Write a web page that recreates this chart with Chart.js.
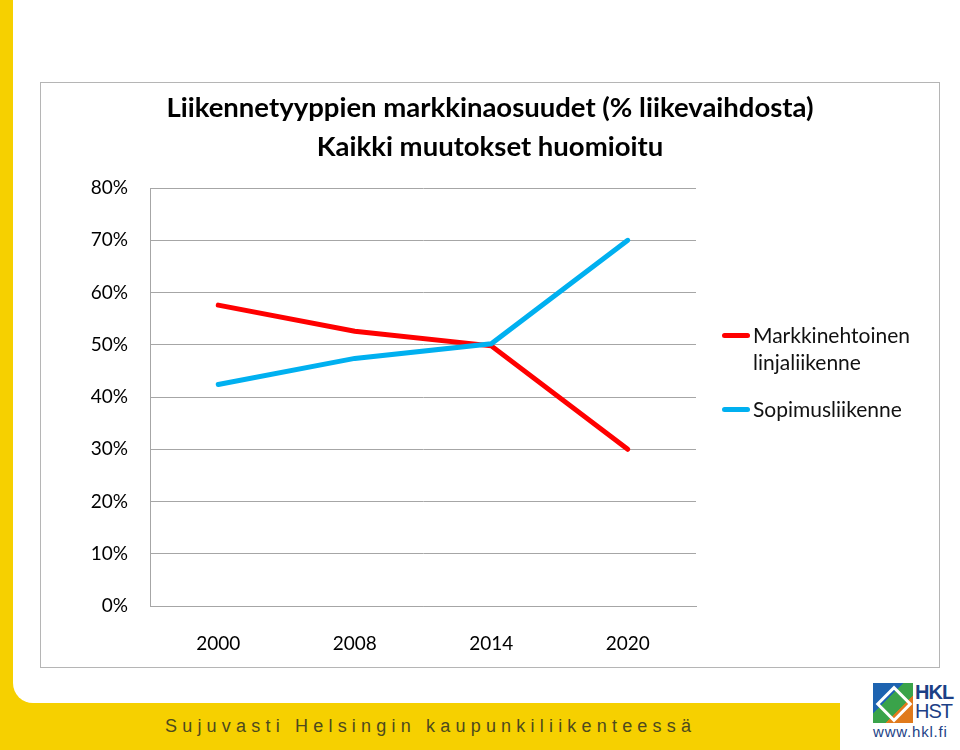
<!DOCTYPE html>
<html lang="fi">
<head>
<meta charset="utf-8">
<title>Liikennetyyppien markkinaosuudet</title>
<script src="https://cdn.jsdelivr.net/npm/chart.js@4.4.1/dist/chart.umd.min.js"></script>
<style>
  html, body { margin: 0; padding: 0; }
  body {
    width: 960px; height: 750px; position: relative; overflow: hidden;
    background: #fff; font-family: Lato, "Open Sans", sans-serif;
  }
  /* yellow frame: left stripe + footer band */
  .stripe { position: absolute; left: 0; top: 0; width: 13px; height: 750px; background: #f6d000; }
  .band { position: absolute; left: 0; top: 703px; width: 840px; height: 47px; background: #f6d000; }
  .corner { position: absolute; left: 13px; top: 683px; width: 20px; height: 20px; background: #f6d000; }
  .corner::after {
    content: ""; position: absolute; left: 0; top: 0; width: 20px; height: 20px;
    background: #fff; border-bottom-left-radius: 20px;
  }
  .slogan {
    position: absolute; left: 165px; top: 716px; font-family: "Liberation Sans", Arial, sans-serif;
    font-size: 18px; letter-spacing: 5.2px; color: #4d4a1e;
  }
  .box {
    position: absolute; left: 40px; top: 82px; width: 898px; height: 584px;
    border: 1px solid #b5b5b5; background: #fff;
  }
  .legend { position: absolute; left: 722px; top: 0; font-size: 21px; color: #111; }
  .legend .item { position: absolute; left: 0; white-space: nowrap; line-height: 27px; }
  .legend .swatch {
    position: absolute; left: 0; width: 28px; height: 5px; border-radius: 3px;
  }
  .legend .txt { position: absolute; left: 31px; top: 0; }
  /* logo */
  .logo { position: absolute; left: 872px; top: 682px; width: 86px; height: 64px; }
  .logo .mark {
    position: absolute; left: 1px; top: 1px; width: 40px; height: 40px;
    background: linear-gradient(135deg, #1d63b0 0 38%, #3aa34a 38% 66%, #e07a1c 66% 100%);
  }
  .logo .mark::after {
    content: ""; position: absolute; left: 8px; top: 8px; width: 20px; height: 20px;
    border: 3px solid #fff; transform: rotate(45deg);
  }
  .logo .hkl { position: absolute; left: 43px; top: -1px; font: bold 20px "Liberation Sans Narrow", "Liberation Sans", sans-serif; color: #1c3f86; letter-spacing: -1px; }
  .logo .hst { position: absolute; left: 43px; top: 18px; font: 20px "Liberation Sans Narrow", "Liberation Sans", sans-serif; color: #1c3f86; letter-spacing: -1px; }
  .logo .www { position: absolute; left: 1px; top: 41px; font: 15px "Liberation Sans", sans-serif; color: #1c3f86; letter-spacing: 0.8px; }
</style>
</head>
<body>
<div class="stripe"></div>
<div class="corner"></div>
<div class="band"></div>
<div class="slogan">Sujuvasti Helsingin kaupunkiliikenteessä</div>

<div class="box">
  <canvas id="shareChart" width="898" height="584"></canvas>
</div>

<div class="legend" id="legend"></div>

<div class="logo">
  <div class="mark"></div>
  <div class="hkl">HKL</div>
  <div class="hst">HST</div>
  <div class="www">www.hkl.fi</div>
</div>

<script>
  // ── Data ──────────────────────────────────────────────
  const years = ["2000", "2008", "2014", "2020"];
  const marketShare = [57.6, 52.6, 49.8, 30.0];     // Markkinehtoinen linjaliikenne
  const contractShare = [42.4, 47.4, 50.2, 70.0];   // Sopimusliikenne
  const yTicks = [0, 10, 20, 30, 40, 50, 60, 70, 80];

  const titleLines = [
    "Liikennetyyppien markkinaosuudet (% liikevaihdosta)",
    "Kaikki muutokset huomioitu"
  ];
  const seriesNames = [["Markkinehtoinen", "linjaliikenne"], ["Sopimusliikenne"]];
  const seriesColors = ["#ff0000", "#00b0f0"];

  const FONT = "Lato, 'Open Sans', sans-serif";

  // ── Chart ─────────────────────────────────────────────
  new Chart(document.getElementById("shareChart"), {
    type: "line",
    data: {
      labels: years,
      datasets: [
        {
          label: seriesNames[0].join(" "),
          data: marketShare,
          borderColor: seriesColors[0],
          borderWidth: 5,
          pointRadius: 0,
          tension: 0,
          borderCapStyle: "round",
          order: 1
        },
        {
          label: seriesNames[1].join(" "),
          data: contractShare,
          borderColor: seriesColors[1],
          borderWidth: 5,
          pointRadius: 0,
          tension: 0,
          borderCapStyle: "round",
          order: 0
        }
      ]
    },
    options: {
      responsive: false,
      animation: false,
      layout: { padding: 0 },
      plugins: {
        legend: { display: false },
        tooltip: { enabled: false },
        title: {
          display: true,
          text: titleLines,
          color: "#000",
          font: { family: FONT, size: 27.5, weight: "bold", lineHeight: 1.42 },
          padding: { top: 5.5, bottom: 21.5 }
        }
      },
      scales: {
        x: {
          offset: true,
          grid: { display: false, drawTicks: false },
          border: { display: true, color: "#a6a6a6", width: 1 },
          ticks: { color: "#000", font: { family: FONT, size: 19 }, padding: 26 },
          afterFit: (s) => { s.height = 61; }
        },
        y: {
          min: yTicks[0],
          max: yTicks[yTicks.length - 1],
          afterBuildTicks: (s) => { s.ticks = yTicks.map((v) => ({ value: v })); },
          grid: { color: "#a6a6a6", lineWidth: 1, drawTicks: false },
          border: { display: true, color: "#a6a6a6", width: 1 },
          ticks: {
            color: "#000",
            font: { family: FONT, size: 19 },
            padding: 22,
            callback: (v) => v + "%"
          },
          afterFit: (s) => { s.width = 109; }
        },
        // empty axis on the right that keeps room for the legend
        legendSpace: {
          position: "right",
          axis: "y",
          min: 0,
          max: 1,
          grid: { display: false, drawTicks: false },
          border: { display: false },
          ticks: { display: false },
          afterFit: (s) => { s.width = 243; }
        }
      }
    }
  });

  // ── Legend (right side, wrapped label) ────────────────
  const legend = document.getElementById("legend");
  const legendTops = [321, 395];
  seriesNames.forEach((lines, i) => {
    const item = document.createElement("div");
    item.className = "item";
    item.style.top = legendTops[i] + "px";
    item.innerHTML =
      `<div class="swatch" style="background:${seriesColors[i]};top:12px"></div>` +
      `<div class="txt">${lines.join("<br>")}</div>`;
    legend.appendChild(item);
  });
</script>
</body>
</html>
